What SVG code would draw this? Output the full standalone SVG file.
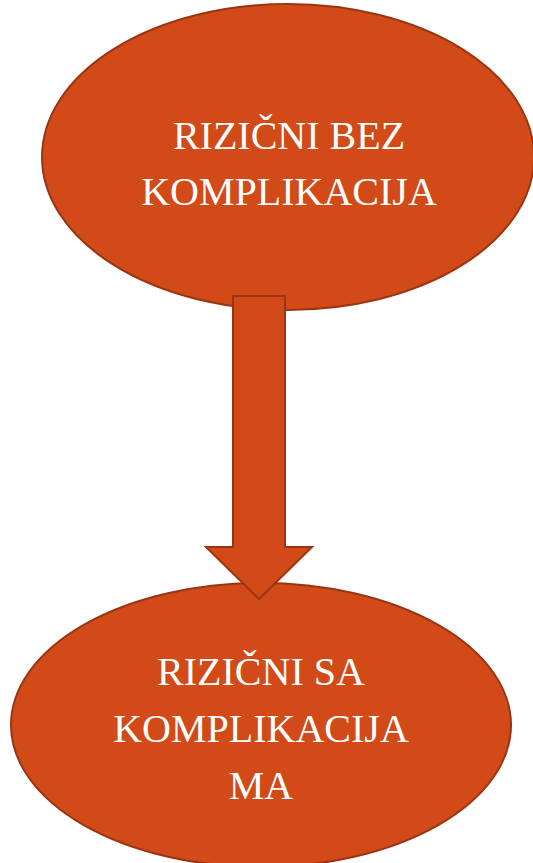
<svg xmlns="http://www.w3.org/2000/svg" width="533" height="863" viewBox="0 0 533 863">
<style>
.shape{fill:#D24A17;stroke:#9A3412;stroke-width:2}
.lbl{font-family:"Liberation Serif","Times New Roman",serif;font-size:40px;fill:#FFFFFF;text-anchor:middle}
</style>
<rect width="533" height="863" fill="#FFFFFF"/>
<g id="node-top">
<ellipse class="shape" cx="288" cy="157" rx="246" ry="153"/>
<text class="lbl" x="289" y="149">RIZIČNI BEZ</text>
<text class="lbl" x="289" y="205">KOMPLIKACIJA</text>
</g>
<g id="node-bottom">
<ellipse class="shape" cx="261" cy="725" rx="250" ry="142"/>
<text class="lbl" x="261" y="685">RIZIČNI SA</text>
<text class="lbl" x="261" y="742">KOMPLIKACIJA</text>
<text class="lbl" x="261" y="799">MA</text>
</g>
<g id="connectors">
<polygon class="shape" points="233,296 285,296 285,547 312,547 259,599 206,547 233,547"/>
</g>
</svg>
